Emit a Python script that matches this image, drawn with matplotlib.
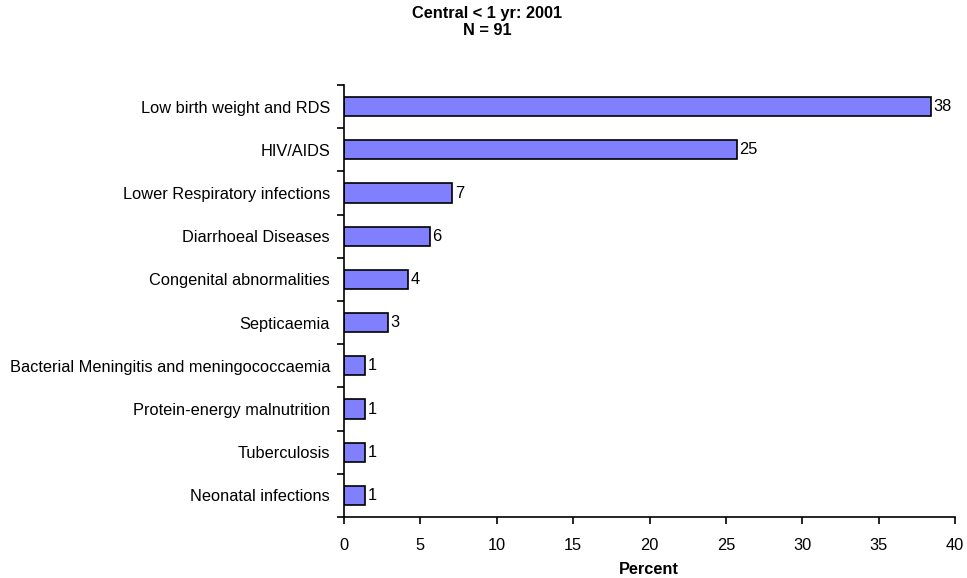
import matplotlib.pyplot as plt
import numpy as np

plt.rcParams['font.family'] = ['Liberation Sans', 'DejaVu Sans']

# data (top to bottom)
causes = ['Low birth weight and RDS', 'HIV/AIDS', 'Lower Respiratory infections',
          'Diarrhoeal Diseases', 'Congenital abnormalities', 'Septicaemia',
          'Bacterial Meningitis and meningococcaemia', 'Protein-energy malnutrition',
          'Tuberculosis', 'Neonatal infections']
percent = [38.4, 25.7, 7.1, 5.6, 4.2, 2.9, 1.4, 1.4, 1.4, 1.4]
labels = ['38', '25', '7', '6', '4', '3', '1', '1', '1', '1']
xticks = [0, 5, 10, 15, 20, 25, 30, 35, 40]

fs = 11.8

fig = plt.figure(figsize=(9.67, 5.78), dpi=100)
ax = fig.add_axes([344 / 967, 1 - 517 / 578, 611 / 967, 432 / 578])

n = len(causes)
y = np.arange(n)[::-1]
ax.barh(y, percent, height=0.44, color='#8080ff', edgecolor='black', linewidth=1.2)
for yi, v, lab in zip(y, percent, labels):
    ax.text(v + 0.15, yi, lab, va='center', ha='left', fontsize=fs)

ax.set_xlim(0, 40)
ax.set_ylim(-0.5, n - 0.5)
ax.set_xticks(xticks)
ax.set_yticks(y)
ax.set_yticklabels(causes, fontsize=fs)
ax.tick_params(axis='y', length=0, pad=10)
ax.set_yticks(np.arange(-0.5, n, 1), minor=True)
ax.tick_params(axis='y', which='minor', length=5, width=1.2, direction='out')
ax.tick_params(axis='x', length=5, width=1.2, direction='out', labelsize=fs, pad=10)

for s in ['top', 'right']:
    ax.spines[s].set_visible(False)
for s in ['left', 'bottom']:
    ax.spines[s].set_linewidth(1.2)

fig.text(649 / 967, 1 - 570 / 578, 'Percent', ha='center', va='center',
         fontsize=fs, fontweight='bold')
fig.text(0.504, 0.99, 'Central < 1 yr: 2001\nN = 91', ha='center', va='top',
         fontsize=fs, fontweight='bold', linespacing=1.2)

plt.savefig('out.png', dpi=100)
plt.close()
